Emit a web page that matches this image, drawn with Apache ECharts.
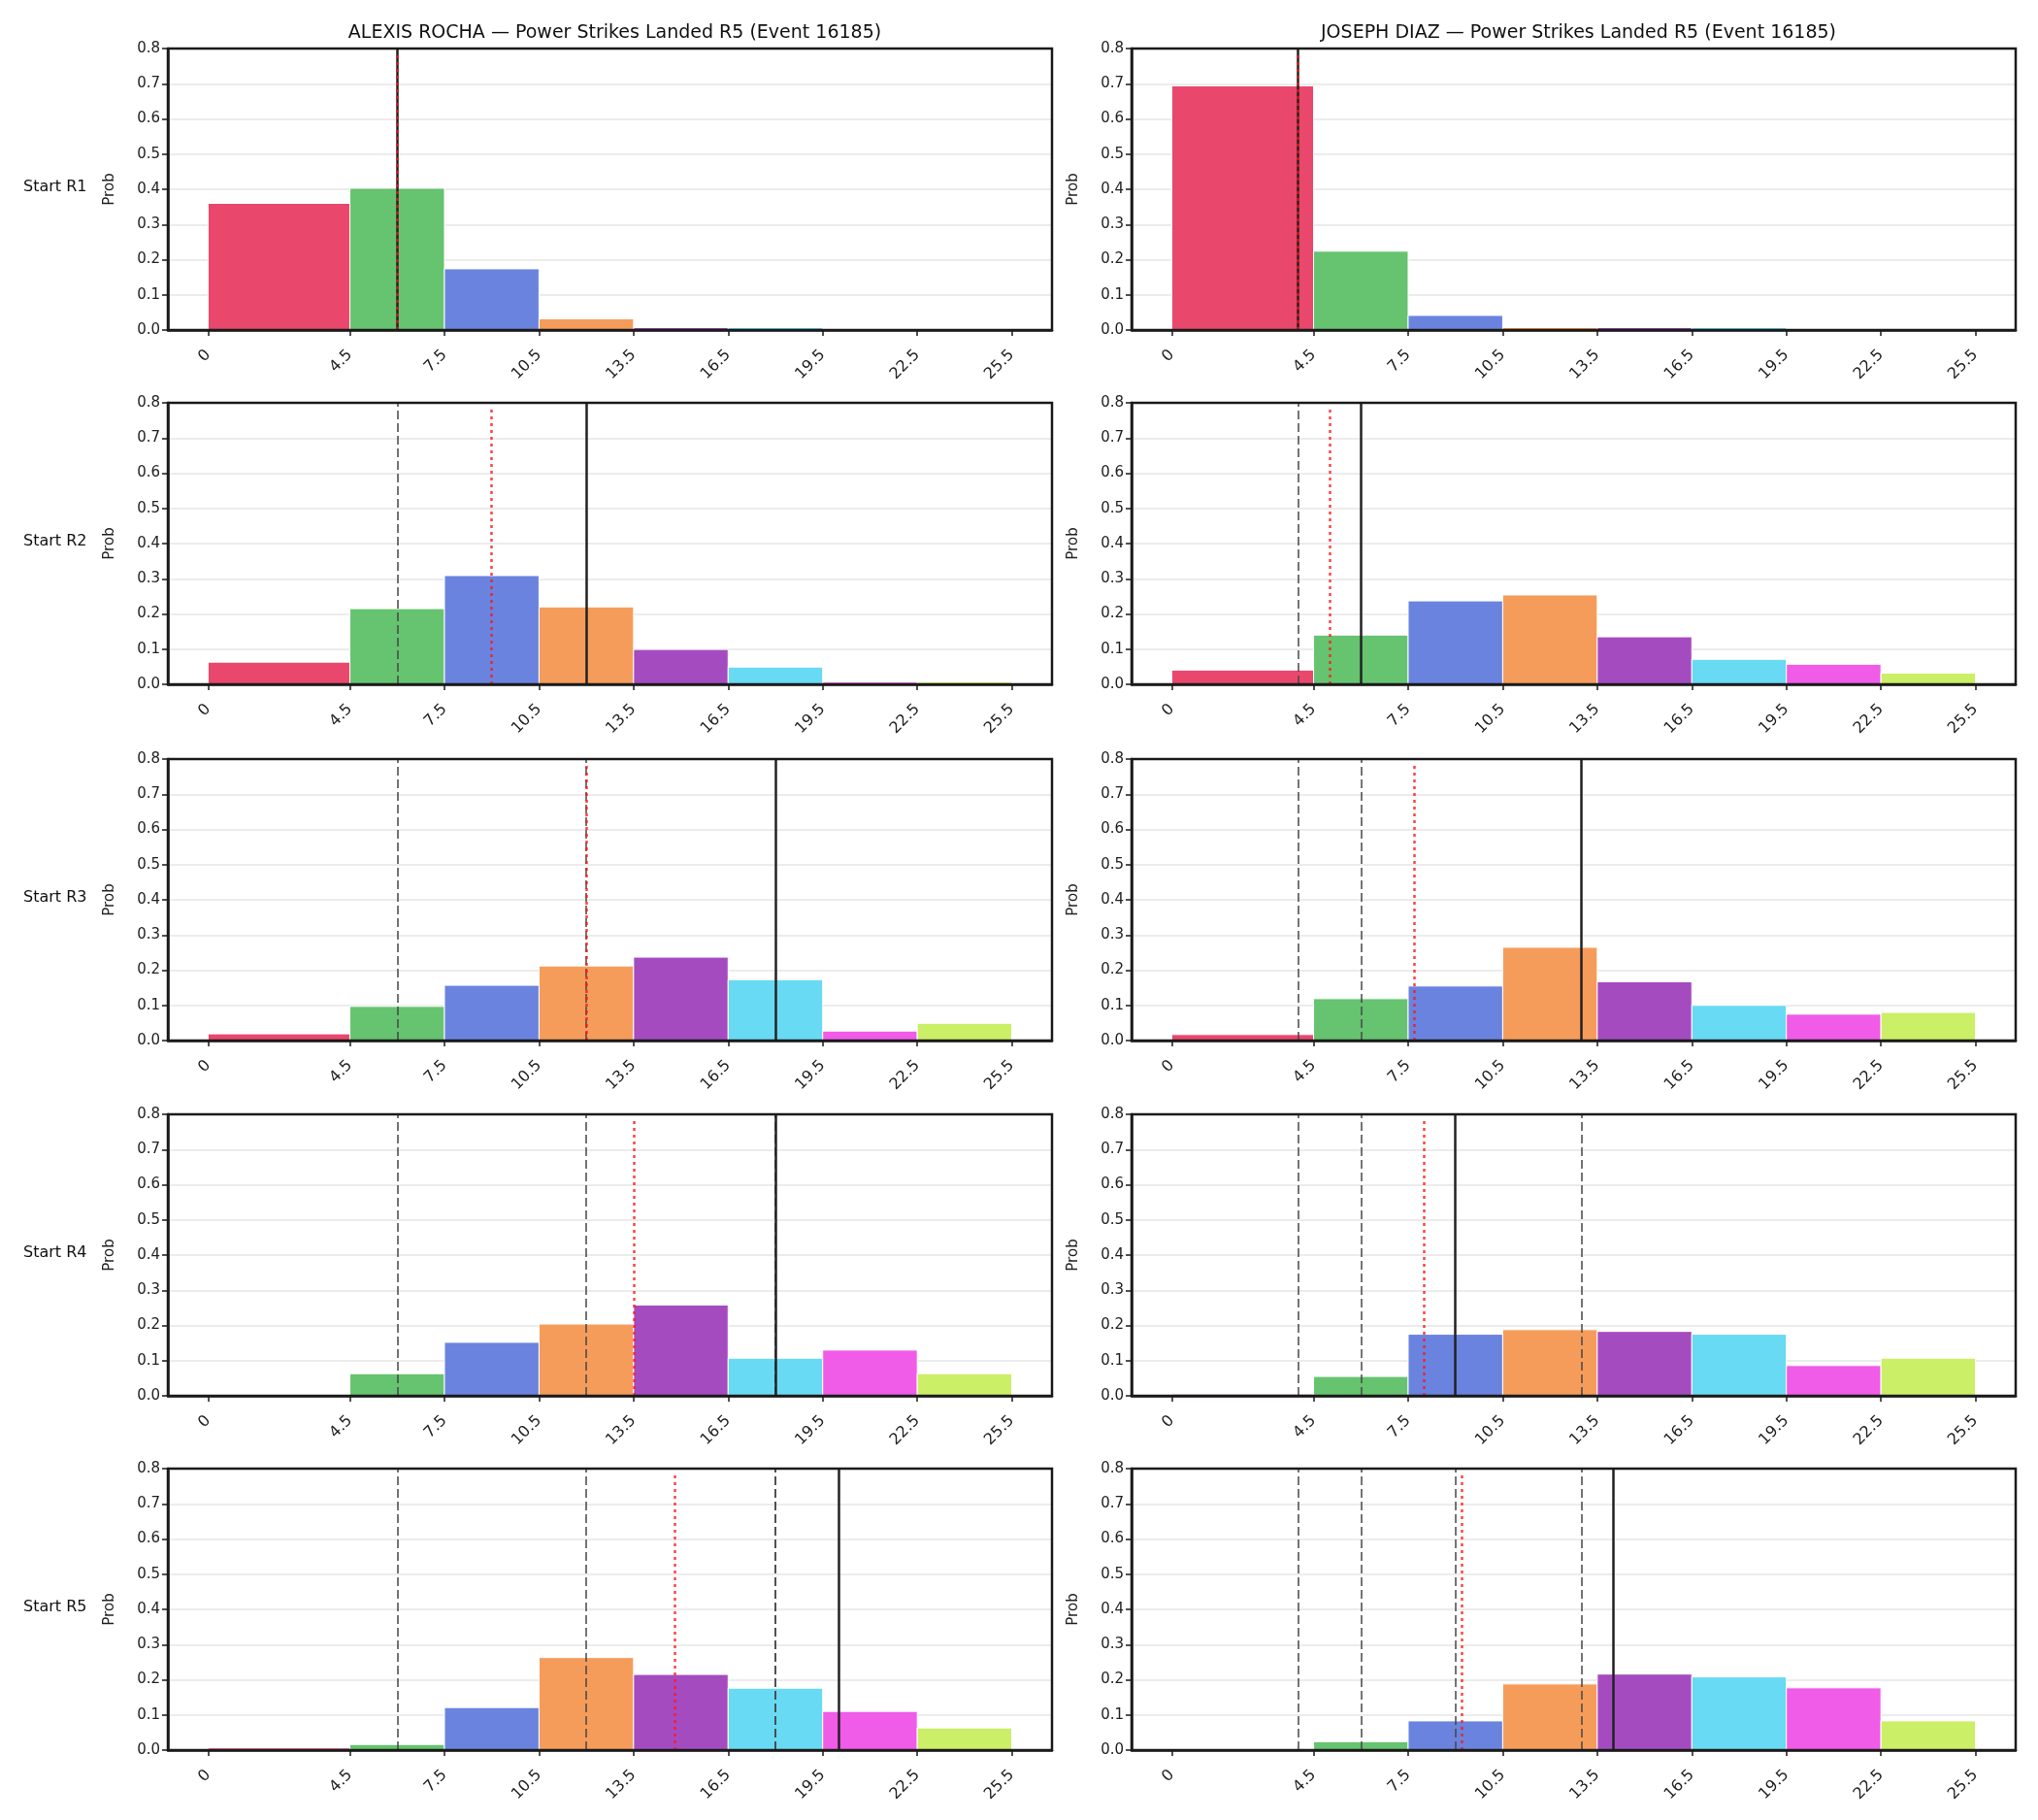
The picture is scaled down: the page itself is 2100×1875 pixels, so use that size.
<!DOCTYPE html>
<html>
<head>
<meta charset="utf-8">
<script src="https://cdn.jsdelivr.net/npm/echarts@6/dist/echarts.min.js"></script>
<style>
  html, body { margin: 0; padding: 0; background: #fff; }
  #main { width: 2100px; height: 1875px; }
</style>
</head>
<body>
<div id="main"></div>
<script>
// bin edges double as the x tick labels
var binEdges = [0, 4.5, 7.5, 10.5, 13.5, 16.5, 19.5, 22.5, 25.5]
var binColors = ['#EA476D', '#66C36F', '#6A83DF', '#F59C5B', '#A54BC0', '#69DAF4', '#F05BE8', '#CBEF66']
var fighters = ['ALEXIS ROCHA', 'JOSEPH DIAZ']
var rowLabels = ['Start R1', 'Start R2', 'Start R3', 'Start R4', 'Start R5']

// probabilities per bin, one array per starting round
var rochaR1 = [0.36, 0.403, 0.174, 0.032, 0.007, 0.007, 0, 0]
var rochaR2 = [0.063, 0.215, 0.309, 0.22, 0.099, 0.049, 0.0065, 0.0065]
var rochaR3 = [0.019, 0.097, 0.157, 0.212, 0.237, 0.173, 0.027, 0.049]
var rochaR4 = [0, 0.063, 0.152, 0.204, 0.258, 0.107, 0.13, 0.063]
var rochaR5 = [0.006, 0.016, 0.121, 0.263, 0.215, 0.176, 0.11, 0.063]

var diazR1 = [0.694, 0.224, 0.0415, 0.007, 0.007, 0.007, 0, 0]
var diazR2 = [0.0405, 0.14, 0.237, 0.254, 0.135, 0.071, 0.057, 0.032]
var diazR3 = [0.017, 0.119, 0.155, 0.265, 0.167, 0.1, 0.075, 0.08]
var diazR4 = [0.005, 0.055, 0.175, 0.188, 0.183, 0.175, 0.086, 0.107]
var diazR5 = [0, 0.024, 0.083, 0.188, 0.216, 0.208, 0.177, 0.083]

// actual cumulative (solid) and expected (red dotted) per row
var rochaActual = [6, 12, 18, 18, 20]
var rochaExpected = [6, 9, 12, 13.5, 14.8]
var diazActual = [4, 6, 13, 9, 14]
var diazExpected = [4, 5, 7.7, 8, 9.2]

var probs = [
  [rochaR1, rochaR2, rochaR3, rochaR4, rochaR5],
  [diazR1, diazR2, diazR3, diazR4, diazR5],
]
var actuals = [rochaActual, diazActual]
var expecteds = [rochaExpected, diazExpected]

var FONT = 'DejaVu Sans'
var gridLefts = [173, 1166]
var gridTops = [50, 415, 782, 1148, 1513]
var gridW = 911
var gridH = 290

var dom = document.getElementById('main')
var myChart = echarts.init(dom)

var grids = []
var xAxes = []
var yAxes = []
var series = []
var titles = []
var graphics = []

var idx = 0
for (var c = 0; c < 2; c++) {
  titles.push({
    text: fighters[c] + ' — Power Strikes Landed R5 (Event 16185)',
    left: gridLefts[c] + gridW / 2,
    top: 20,
    textAlign: 'center',
    textStyle: { fontFamily: FONT, fontSize: 19, fontWeight: 'normal', color: '#111' },
  })
  for (var r = 0; r < 5; r++) {
    grids.push({
      left: gridLefts[c],
      top: gridTops[r],
      width: gridW,
      height: gridH,
      show: true,
      z: 10,
      borderColor: '#1a1a1a',
      borderWidth: 2.5,
      backgroundColor: 'transparent',
    })
    xAxes.push({
      gridIndex: idx,
      type: 'value',
      min: -1.275,
      max: 26.775,
      z: 6,
      axisLine: { show: true, onZero: false, lineStyle: { color: '#1a1a1a', width: 2.5 } },
      axisTick: { show: true, customValues: binEdges, length: 6, lineStyle: { color: '#1a1a1a', width: 1.5 } },
      axisLabel: {
        customValues: binEdges,
        rotate: 45,
        fontFamily: FONT,
        fontSize: 16,
        color: '#222',
        margin: 23,
        formatter: function (v) { return String(v) },
      },
      splitLine: { show: false },
    })
    yAxes.push({
      gridIndex: idx,
      type: 'value',
      min: 0,
      max: 0.8,
      interval: 0.1,
      name: 'Prob',
      nameLocation: 'middle',
      nameGap: 52,
      nameTextStyle: { fontFamily: FONT, fontSize: 15, color: '#222' },
      z: 1,
      axisLine: { show: true, onZero: false, lineStyle: { color: '#1a1a1a', width: 2.5 } },
      axisTick: { show: true, length: 6, lineStyle: { color: '#1a1a1a', width: 1.5 } },
      axisLabel: {
        fontFamily: FONT,
        fontSize: 15,
        color: '#222',
        margin: 8,
        formatter: function (v) { return v.toFixed(1) },
      },
      splitLine: { show: true, lineStyle: { color: '#e6e6e6', width: 1.5 } },
    })

    var vals = probs[c][r]
    var barData = []
    for (var i = 0; i < vals.length; i++) {
      barData.push([i, binEdges[i], binEdges[i + 1], vals[i]])
    }
    series.push({
      type: 'custom',
      xAxisIndex: idx,
      yAxisIndex: idx,
      z: 2,
      animation: false,
      silent: true,
      encode: { x: [1, 2], y: 3 },
      data: barData,
      renderItem: function (params, api) {
        var lo = api.coord([api.value(1), 0])
        var hi = api.coord([api.value(2), api.value(3)])
        return {
          type: 'rect',
          shape: { x: lo[0], y: hi[1], width: hi[0] - lo[0], height: lo[1] - hi[1] },
          style: { fill: binColors[api.value(0)], stroke: '#fff', lineWidth: 1 },
        }
      },
    })

    // dashed grey: earlier rounds' actual totals
    var dashedData = []
    for (var k = 0; k < r; k++) {
      dashedData.push({ xAxis: actuals[c][k] })
    }
    series.push({
      type: 'line',
      xAxisIndex: idx,
      yAxisIndex: idx,
      data: [],
      z: 3,
      silent: true,
      animation: false,
      markLine: {
        silent: true,
        animation: false,
        symbol: ['none', 'none'],
        label: { show: false },
        lineStyle: { color: 'rgba(70,70,70,0.75)', width: 2, type: [9, 4] },
        data: dashedData,
      },
    })
    // solid black: actual total
    series.push({
      type: 'line',
      xAxisIndex: idx,
      yAxisIndex: idx,
      data: [],
      z: 4,
      silent: true,
      animation: false,
      markLine: {
        silent: true,
        animation: false,
        symbol: ['none', 'none'],
        label: { show: false },
        lineStyle: { color: '#222', width: 2.5, type: 'solid' },
        data: [{ xAxis: actuals[c][r] }],
      },
    })
    // red dotted: expected
    series.push({
      type: 'line',
      xAxisIndex: idx,
      yAxisIndex: idx,
      data: [],
      z: 5,
      silent: true,
      animation: false,
      markLine: {
        silent: true,
        animation: false,
        symbol: ['none', 'none'],
        label: { show: false },
        lineStyle: { color: 'rgba(255,20,20,0.8)', width: 2.5, type: [3, 4] },
        data: [[{ coord: [expecteds[c][r], 0] }, { coord: [expecteds[c][r], 0.79] }]],
      },
    })
    idx++
  }
}

for (var r = 0; r < 5; r++) {
  graphics.push({
    type: 'text',
    left: 24,
    top: gridTops[r] + gridH / 2 - 10,
    style: { text: rowLabels[r], fontFamily: FONT, fontSize: 16, fill: '#111' },
  })
}

var option = {
  backgroundColor: '#fff',
  animation: false,
  title: titles,
  grid: grids,
  xAxis: xAxes,
  yAxis: yAxes,
  series: series,
  graphic: graphics,
}
myChart.setOption(option, true)
</script>
</body>
</html>
